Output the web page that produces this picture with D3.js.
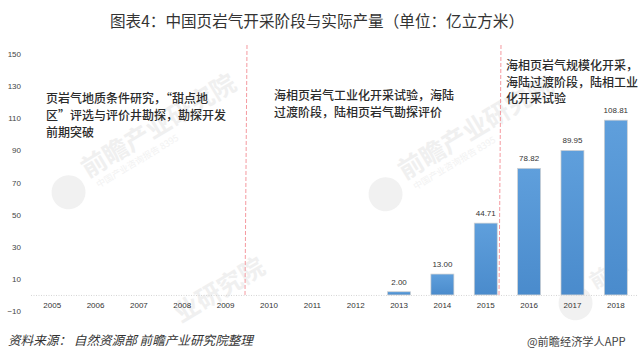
<!DOCTYPE html>
<html>
<head>
<meta charset="utf-8">
<script src="https://cdn.jsdelivr.net/npm/d3@7"></script>
<style>
body{margin:0;background:#fff;}
svg{display:block;}
text{font-family:"Noto Sans CJK SC","Noto Sans",sans-serif;}
</style>
</head>
<body>
<div id="chart"></div>
<script>
var years=["2005","2006","2007","2008","2009","2010","2011","2012","2013","2014","2015","2016","2017","2018"];
var output=[null,null,null,null,null,null,null,null,2.00,13.00,44.71,78.82,89.95,108.81];
var yTicks=[-10,10,30,50,70,90,110,130,150];
var stageOne=["页岩气地质条件研究，“甜点地","区”评选与评价井勘探，勘探开发","前期突破"];
var stageTwo=["海相页岩气工业化开采试验，海陆","过渡阶段，陆相页岩气勘探评价"];
var stageThree=["海相页岩气规模化开采，","海陆过渡阶段，陆相工业","化开采试验"];
var title="图表4：中国页岩气开采阶段与实际产量（单位：亿立方米）";
var source="资料来源：  自然资源部  前瞻产业研究院整理";
var credit="@前瞻经济学人APP";
var markName="前瞻产业研究院";

var svg=d3.select("#chart").append("svg")
	.attr("width",640)
	.attr("height",358);

var x=d3.scaleBand().domain(years).range([30.5,637.5]).paddingInner(0.47).paddingOuter(0.235);
var y=d3.scaleLinear().domain([-10,150]).range([311,54]);

var defs=svg.append("defs");
var grad=defs.append("linearGradient").attr("id","barFill")
	.attr("x1",0).attr("y1",0).attr("x2",0).attr("y2",1);
grad.append("stop").attr("offset","0%").attr("stop-color","#5f9fdc");
grad.append("stop").attr("offset","100%").attr("stop-color","#4a8bcc");

// watermarks behind the plot, the cut off ones only carry the part that shows
function addMark(px,py,label,size,small,logo){
	var g=svg.append("g").attr("transform","translate("+px+","+py+") rotate(-31)");
	if(logo)
		g.append("circle").attr("cx",-24).attr("cy",8).attr("r",17).attr("fill","#f1f1f1");
	g.append("text").text(label).attr("x",0).attr("y",6)
		.attr("font-size",size).attr("font-weight",700).attr("fill","#f0f0f0");
	if(small)
		g.append("text").text(small).attr("x",4).attr("y",20)
			.attr("font-size",9).attr("fill","#f2f2f2");
}
addMark(85,173,markName,25,"中国产业咨询报告 8395",true);
addMark(402,175,markName,25,"中国产业咨询报告 8395",true);
addMark(178,318,"业研究院",25,"",false);
addMark(592,284,"前瞻",20,"",true);

svg.append("text").text(title)
	.attr("x",317).attr("y",27)
	.attr("text-anchor","middle")
	.attr("font-size",15.6)
	.attr("fill","#333");

var yAxis=svg.append("g").attr("transform","translate(21,0)")
	.call(d3.axisLeft(y).tickValues(yTicks).tickSize(0).tickPadding(0));
yAxis.select(".domain").remove();
yAxis.selectAll("text")
	.style("font-family","Liberation Sans")
	.attr("font-size",8)
	.attr("fill","#444");

var xAxis=svg.append("g").attr("transform","translate(0,"+y(0)+")")
	.call(d3.axisBottom(x).tickSize(0).tickPadding(7));
xAxis.select(".domain")
	.attr("stroke","#d4d4d4")
	.attr("stroke-dasharray","1,1.5");
xAxis.selectAll("text")
	.style("font-family","Liberation Sans")
	.attr("font-size",8)
	.attr("fill","#333");

var rows=years.map(function(d,i){return {year:d,value:output[i]};})
	.filter(function(d){return d.value!==null;});

svg.selectAll("rect.bar")
	.data(rows)
	.enter()
	.append("rect")
	.attr("class","bar")
	.attr("x",function(d){return x(d.year);})
	.attr("y",function(d){return y(d.value);})
	.attr("width",x.bandwidth())
	.attr("height",function(d){return y(0)-y(d.value);})
	.attr("fill","url(#barFill)")
	.attr("stroke","#d0d0d0")
	.attr("stroke-width",0.7);

svg.selectAll("text.val")
	.data(rows)
	.enter()
	.append("text")
	.attr("class","val")
	.text(function(d){return d.value.toFixed(2);})
	.attr("x",function(d){return x(d.year)+x.bandwidth()/2;})
	.attr("y",function(d){return y(d.value)-7;})
	.attr("text-anchor","middle")
	.style("font-family","Liberation Sans")
	.attr("font-size",8)
	.attr("fill","#333");

// stage dividers
[[247,245],[501,499]].forEach(function(p){
	svg.append("line")
		.attr("x1",p[0]).attr("y1",45)
		.attr("x2",p[1]).attr("y2",y(0))
		.attr("stroke","#f59aa0")
		.attr("stroke-width",1)
		.attr("stroke-dasharray","4,2");
});

function addNote(lines,nx,ny,size,gap){
	var t=svg.append("text").attr("font-size",size).attr("font-weight",500).attr("fill","#2b2b2b");
	t.selectAll("tspan").data(lines).enter().append("tspan")
		.attr("x",nx)
		.attr("y",function(d,i){return ny+i*gap;})
		.text(function(d){return d;});
}
addNote(stageOne,46,102.5,12,17);
addNote(stageTwo,274,100,12,16.7);
addNote(stageThree,506,70,12,16.7);

svg.append("text").text(source)
	.attr("x",8).attr("y",345)
	.attr("font-size",12.6)
	.attr("font-style","italic")
	.attr("fill","#333");

svg.append("text").text(credit)
	.attr("x",527).attr("y",346)
	.attr("font-size",11.2)
	.attr("fill","#444");
</script>
</body>
</html>
